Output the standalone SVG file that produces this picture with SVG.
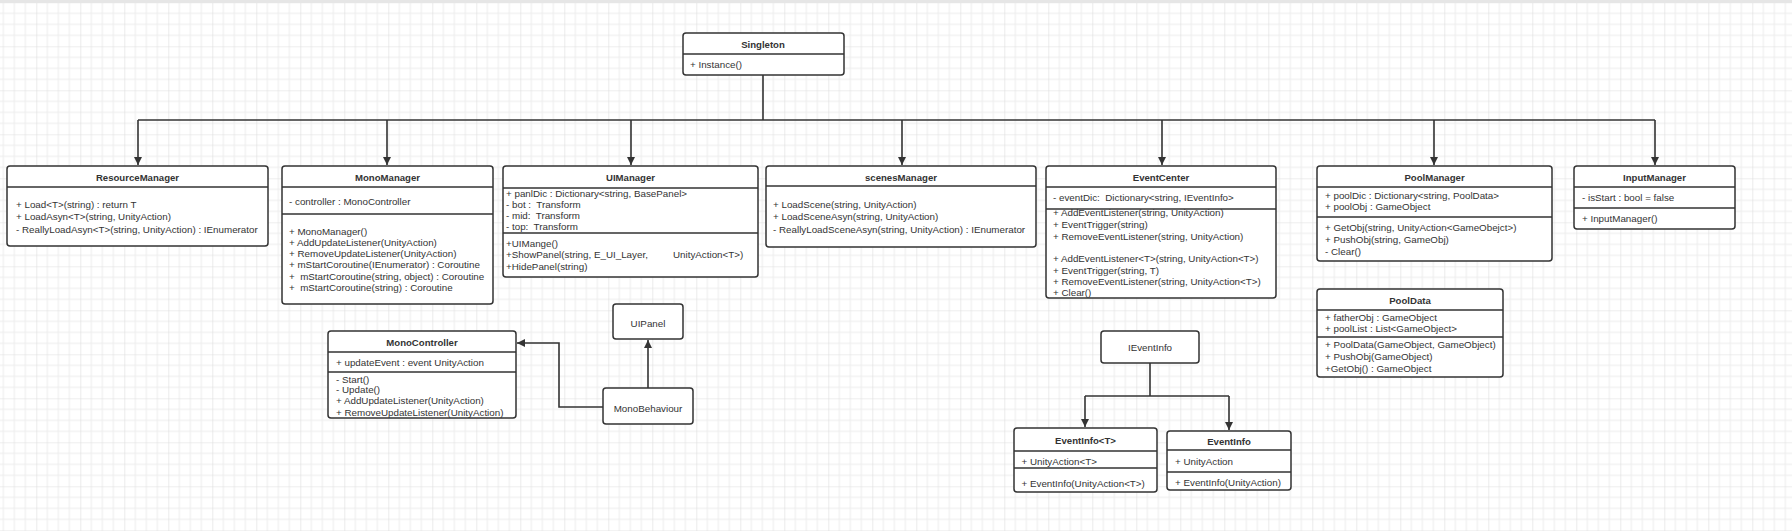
<svg xmlns="http://www.w3.org/2000/svg" width="1792" height="531" viewBox="0 0 1792 531">
<defs>
<pattern id="grid" x="-7.7" y="2.3" width="44" height="44" patternUnits="userSpaceOnUse">
<path d="M11 0V44M22 0V44M33 0V44M0 11H44M0 22H44M0 33H44" stroke="#ececec" stroke-width="1" fill="none"/>
<path d="M0 0V44M0 0H44" stroke="#dedede" stroke-width="1.2" fill="none"/>
</pattern>
<marker id="arr" markerUnits="userSpaceOnUse" markerWidth="10" markerHeight="10" refX="8" refY="4" orient="auto">
<path d="M0,0 L8,4 L0,8 Z" fill="#333"/>
</marker>
<style>
.box{fill:#fff;stroke:#333;stroke-width:1.5}
.div{stroke:#333;stroke-width:1.5;fill:none}
.t{font-family:"Liberation Sans",Arial,sans-serif;font-size:9.8px;fill:#333}
.h{font-family:"Liberation Sans",Arial,sans-serif;font-size:9.6px;font-weight:bold;fill:#333;text-anchor:middle}
.c{text-anchor:middle}
.ln{stroke:#333;stroke-width:1.6;fill:none}
</style>
</defs>
<rect width="1792" height="531" fill="#fff"/>
<rect width="1792" height="531" fill="url(#grid)"/>
<rect width="1792" height="3" fill="#e6e6e6"/>

<g id="connectors">
<path class="ln" d="M763,75 V120"/>
<path class="ln" d="M138,120 H1655"/>
<path class="ln" d="M138,120 V165" marker-end="url(#arr)"/>
<path class="ln" d="M387,120 V165" marker-end="url(#arr)"/>
<path class="ln" d="M631,120 V165" marker-end="url(#arr)"/>
<path class="ln" d="M902,120 V165" marker-end="url(#arr)"/>
<path class="ln" d="M1162,120 V165" marker-end="url(#arr)"/>
<path class="ln" d="M1434,120 V165" marker-end="url(#arr)"/>
<path class="ln" d="M1655,120 V165" marker-end="url(#arr)"/>
<path class="ln" d="M603,407 H559 V343 H517" marker-end="url(#arr)"/>
<path class="ln" d="M648,388 V340" marker-end="url(#arr)"/>
<path class="ln" d="M1150,363 V396"/>
<path class="ln" d="M1085,396 H1229"/>
<path class="ln" d="M1085,396 V427" marker-end="url(#arr)"/>
<path class="ln" d="M1229,396 V430" marker-end="url(#arr)"/>
</g>

<g id="Singleton">
<rect class="box" x="683" y="33" width="161" height="42" rx="3"/>
<path class="div" d="M683,54 H844"/>
<text class="h" x="763" y="48">Singleton</text>
<text class="t" x="690" y="68">+ Instance()</text>
</g>

<g id="ResourceManager">
<rect class="box" x="7" y="166" width="261" height="80" rx="3"/>
<path class="div" d="M7,187 H268"/>
<text class="h" x="137.5" y="180.5">ResourceManager</text>
<text class="t" x="16" y="207.5">+ Load&lt;T&gt;(string) : return T</text>
<text class="t" x="16" y="220">+ LoadAsyn&lt;T&gt;(string, UnityAction)</text>
<text class="t" x="16" y="232.5">- ReallyLoadAsyn&lt;T&gt;(string, UnityAction) : IEnumerator</text>
</g>

<g id="MonoManager">
<rect class="box" x="282" y="166" width="211" height="138" rx="3"/>
<path class="div" d="M282,187 H493 M282,214 H493"/>
<text class="h" x="387.5" y="180.5">MonoManager</text>
<text class="t" x="289" y="204.5">- controller : MonoController</text>
<text class="t" x="289" y="234.5">+ MonoManager()</text>
<text class="t" x="289" y="245.8">+ AddUpdateListener(UnityAction)</text>
<text class="t" x="289" y="257.1">+ RemoveUpdateListener(UnityAction)</text>
<text class="t" x="289" y="268.4">+ mStartCoroutine(IEnumerator) : Coroutine</text>
<text class="t" x="289" y="279.7" xml:space="preserve">+  mStartCoroutine(string, object) : Coroutine</text>
<text class="t" x="289" y="291" xml:space="preserve">+  mStartCoroutine(string) : Coroutine</text>
</g>

<g id="UIManager">
<rect class="box" x="503" y="166" width="255" height="111" rx="3"/>
<path class="div" d="M503,188 H758 M503,233 H758"/>
<text class="h" x="630.5" y="180.5">UIManager</text>
<text class="t" x="506" y="196.5">+ panlDic : Dictionary&lt;string, BasePanel&gt;</text>
<text class="t" x="506" y="207.5" xml:space="preserve">- bot :  Transform</text>
<text class="t" x="506" y="218.5" xml:space="preserve">- mid:  Transform</text>
<text class="t" x="506" y="229.5" xml:space="preserve">- top:  Transform</text>
<text class="t" x="506" y="246.5">+UIMange()</text>
<text class="t" x="506" y="258">+ShowPanel(string, E_UI_Layer,<tspan x="673">UnityAction&lt;T&gt;)</tspan></text>
<text class="t" x="506" y="269.5">+HidePanel(string)</text>
</g>

<g id="scenesManager">
<rect class="box" x="766" y="166" width="270" height="81" rx="3"/>
<path class="div" d="M766,186 H1036"/>
<text class="h" x="901" y="180.5">scenesManager</text>
<text class="t" x="773" y="207.5">+ LoadScene(string, UnityAction)</text>
<text class="t" x="773" y="219.5">+ LoadSceneAsyn(string, UnityAction)</text>
<text class="t" x="773" y="232.5">- ReallyLoadSceneAsyn(string, UnityAction) : IEnumerator</text>
</g>

<g id="EventCenter">
<rect class="box" x="1046" y="166" width="230" height="132" rx="3"/>
<path class="div" d="M1046,187 H1276 M1046,209 H1276"/>
<text class="h" x="1161" y="180.5">EventCenter</text>
<text class="t" x="1053" y="201" xml:space="preserve">- eventDic:  Dictionary&lt;string, IEventInfo&gt;</text>
<text class="t" x="1053" y="216">+ AddEventListener(string, UnityAction)</text>
<text class="t" x="1053" y="227.5">+ EventTrigger(string)</text>
<text class="t" x="1053" y="240">+ RemoveEventListener(string, UnityAction)</text>
<text class="t" x="1053" y="262.3">+ AddEventListener&lt;T&gt;(string, UnityAction&lt;T&gt;)</text>
<text class="t" x="1053" y="273.5">+ EventTrigger(string, T)</text>
<text class="t" x="1053" y="285">+ RemoveEventListener(string, UnityAction&lt;T&gt;)</text>
<text class="t" x="1053" y="296">+ Clear()</text>
</g>

<g id="PoolManager">
<rect class="box" x="1317" y="166" width="235" height="95" rx="3"/>
<path class="div" d="M1317,187 H1552 M1317,217 H1552"/>
<text class="h" x="1434.5" y="180.5">PoolManager</text>
<text class="t" x="1325" y="199">+ poolDic : Dictionary&lt;string, PoolData&gt;</text>
<text class="t" x="1325" y="210">+ poolObj : GameObject</text>
<text class="t" x="1325" y="231">+ GetObj(string, UnityAction&lt;GameObejct&gt;)</text>
<text class="t" x="1325" y="243.3">+ PushObj(string, GameObj)</text>
<text class="t" x="1325" y="255">- Clear()</text>
</g>

<g id="InputManager">
<rect class="box" x="1574" y="166" width="161" height="63" rx="3"/>
<path class="div" d="M1574,187 H1735 M1574,208 H1735"/>
<text class="h" x="1654.5" y="180.5">InputManager</text>
<text class="t" x="1582" y="201">- isStart : bool = false</text>
<text class="t" x="1582" y="222.3">+ InputManager()</text>
</g>

<g id="PoolData">
<rect class="box" x="1317" y="289" width="186" height="88" rx="3"/>
<path class="div" d="M1317,310 H1503 M1317,337 H1503"/>
<text class="h" x="1410" y="304">PoolData</text>
<text class="t" x="1325" y="321">+ fatherObj : GameObject</text>
<text class="t" x="1325" y="332.3">+ poolList : List&lt;GameObject&gt;</text>
<text class="t" x="1325" y="347.6">+ PoolData(GameObject, GameObject)</text>
<text class="t" x="1325" y="360">+ PushObj(GameObject)</text>
<text class="t" x="1325" y="372.3">+GetObj() : GameObject</text>
</g>

<g id="MonoController">
<rect class="box" x="328" y="331" width="188" height="87" rx="3"/>
<path class="div" d="M328,352 H516 M328,372 H516"/>
<text class="h" x="422" y="345.5">MonoController</text>
<text class="t" x="336" y="366">+ updateEvent : event UnityAction</text>
<text class="t" x="336" y="382.6">- Start()</text>
<text class="t" x="336" y="393.3">- Update()</text>
<text class="t" x="336" y="404.3">+ AddUpdateListener(UnityAction)</text>
<text class="t" x="336" y="416">+ RemoveUpdateListener(UnityAction)</text>
</g>

<g id="UIPanel">
<rect class="box" x="613" y="304" width="70" height="35" rx="3"/>
<text class="t c" x="648" y="326.5">UIPanel</text>
</g>

<g id="MonoBehaviour">
<rect class="box" x="603" y="388" width="90" height="36" rx="3"/>
<text class="t c" x="648" y="411.5">MonoBehaviour</text>
</g>

<g id="IEventInfo">
<rect class="box" x="1101" y="331" width="98" height="32" rx="3"/>
<text class="t c" x="1150" y="350.5">IEventInfo</text>
</g>

<g id="EventInfoT">
<rect class="box" x="1014" y="428" width="143" height="64" rx="3"/>
<path class="div" d="M1014,451 H1157 M1014,468 H1157"/>
<text class="h" x="1085.5" y="444">EventInfo&lt;T&gt;</text>
<text class="t" x="1021.5" y="465">+ UnityAction&lt;T&gt;</text>
<text class="t" x="1021.5" y="486.5">+ EventInfo(UnityAction&lt;T&gt;)</text>
</g>

<g id="EventInfo">
<rect class="box" x="1167" y="431" width="124" height="59" rx="3"/>
<path class="div" d="M1167,450 H1291 M1167,472 H1291"/>
<text class="h" x="1229" y="445">EventInfo</text>
<text class="t" x="1175" y="465">+ UnityAction</text>
<text class="t" x="1175" y="485.5">+ EventInfo(UnityAction)</text>
</g>
</svg>
